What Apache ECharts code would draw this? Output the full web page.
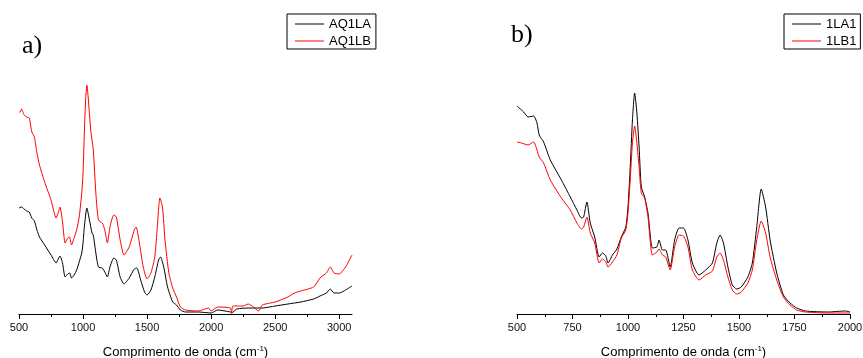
<!DOCTYPE html>
<html>
<head>
<meta charset="utf-8">
<script src="https://cdn.jsdelivr.net/npm/echarts@6/dist/echarts.min.js"></script>
<style>html,body{margin:0;padding:0;background:#fff}#c{width:863px;height:358px}</style>
</head>
<body>
<div id="c"></div>
<script>
// Panel a)
const aX_LA = [500,520,540,560,580,600,620,640,660,700,750,790,810,820,840,860,880,895,910,930,950,970,990,1000,1010,1030,1050,1070,1080,1100,1120,1150,1170,1190,1210,1240,1260,1290,1320,1360,1400,1420,1450,1480,1500,1530,1560,1590,1605,1630,1660,1700,1730,1760,1800,1900,2000,2050,2150,2160,2200,2300,2400,2500,2600,2700,2800,2850,2900,2930,2960,3000,3050,3100];
const aY_LA = [106,107,105,103,102,96,93,84,77,69,59,51,56,58,51,37,40,41,36,39,44,52,61,71,87,106,94,81,79,61,47,46,42,37,47,56,54,37,30,36,45,46,34,22,19,24,37,54,57,47,27,12,9,4,2,2,1,4,2,1,5,6,6,8,10,12,15,18,21,25,21,21,24,28];
const aX_LB = [500,510,520,540,560,580,600,620,640,660,700,750,790,805,820,840,860,880,895,910,930,950,970,990,1000,1010,1020,1030,1040,1060,1080,1100,1120,1150,1170,1190,1210,1240,1260,1290,1320,1360,1400,1415,1440,1470,1500,1530,1560,1580,1600,1620,1640,1670,1700,1730,1760,1800,1900,1980,2000,2050,2150,2160,2170,2250,2290,2330,2370,2400,2500,2600,2650,2700,2800,2850,2900,2930,2960,3000,3050,3100];
const aY_LB = [202,202,205,199,197,196,182,177,161,149,132,114,96,101,107,92,71,76,77,69,76,84,97,121,141,181,214,229,217,184,164,121,94,91,84,71,87,99,97,74,59,67,84,87,71,47,35,41,57,87,116,107,74,41,26,17,7,4,3,6,3,7,6,1,8,8,10,7,3,9,12,17,21,23,27,36,41,47,41,40,47,59];
// Panel b)
const bX_LA1 = [500,510,530,550,575,590,600,620,650,700,740,770,790,800,815,830,850,870,885,900,910,930,950,970,990,1000,1010,1020,1030,1040,1050,1060,1075,1090,1110,1130,1140,1155,1170,1190,1210,1230,1250,1270,1290,1320,1350,1380,1400,1415,1430,1450,1470,1490,1510,1540,1560,1580,1600,1620,1640,1670,1700,1730,1760,1800,1900,1980,2000];
const bY_LA1 = [208,206,202,197,198,191,179,172,154,134,117,104,96,97,112,91,77,57,61,58,51,59,65,77,87,107,147,194,221,201,167,127,117,101,66,67,74,64,64,47,74,86,86,74,51,39,44,51,71,79,71,47,29,25,27,37,51,87,125,107,74,41,19,11,6,3,2,3,2];
const bX_LB1 = [500,520,550,575,590,600,620,650,700,740,770,790,800,815,830,850,870,885,900,910,930,950,970,990,1000,1010,1020,1030,1040,1050,1060,1075,1090,1110,1130,1140,1155,1170,1190,1210,1230,1250,1270,1290,1320,1350,1380,1400,1415,1430,1450,1470,1490,1510,1540,1560,1580,1600,1620,1640,1670,1700,1730,1760,1800,1900,2000];
const bY_LB1 = [172,171,169,172,164,157,151,134,116,104,91,85,87,97,81,71,51,55,52,47,52,59,76,84,101,134,171,188,171,147,121,116,97,59,62,65,59,57,44,67,79,78,67,44,34,39,43,57,61,54,37,24,20,22,31,44,74,93,81,57,34,17,9,4,2,1,1];

const aMajor = [500,1000,1500,2000,2500,3000];
const aMinor = [750,1250,1750,2250,2750];
const bMajor = [500,750,1000,1250,1500,1750,2000];
const bMinor = [625,875,1125,1375,1625,1875];

const zip = (xs, ys) => xs.map((x, i) => [x, ys[i]]);
const FONT = 'Liberation Sans, Arial, sans-serif';
const axisName = '{a|Comprimento de onda (cm}{s|-1}{a|)}';
const nameStyle = {
  rich: {
    a: {fontSize: 13, fontFamily: FONT, color: '#000', lineHeight: 15},
    s: {fontSize: 8, fontFamily: FONT, color: '#000', lineHeight: 15, verticalAlign: 'top', padding: [0,0,7,0]}
  }
};
function majorAxis(grid, min, max, vals) {
  return {
    type: 'value', gridIndex: grid, min: min, max: max, position: 'bottom',
    name: axisName, nameLocation: 'middle', nameGap: 31, nameTextStyle: nameStyle,
    axisLine: {show: true, lineStyle: {color: '#000', width: 1}},
    axisTick: {show: true, inside: false, length: 5, customValues: vals, lineStyle: {color: '#000'}},
    axisLabel: {customValues: vals, formatter: v => String(v), fontSize: 11, fontFamily: FONT, color: '#111', margin: 8},
    splitLine: {show: false}
  };
}
function minorAxis(grid, min, max, vals) {
  return {
    type: 'value', gridIndex: grid, min: min, max: max, position: 'bottom', offset: 0,
    axisLine: {show: false},
    axisTick: {show: true, inside: false, length: 3, customValues: vals, lineStyle: {color: '#000'}},
    axisLabel: {show: false}, splitLine: {show: false}
  };
}
const legendBase = {
  orient: 'vertical', top: 14, borderColor: '#000', borderWidth: 1, borderRadius: 0,
  padding: [3,5,1,8], itemGap: 3, itemWidth: 29, itemHeight: 1, icon: 'rect', itemTextGap: 5,
  textStyle: {fontSize: 13, fontFamily: FONT, color: '#000', lineHeight: 14}
};

const chart = echarts.init(document.getElementById('c'), null, {renderer: 'canvas'});
chart.setOption({
  animation: false,
  backgroundColor: '#fff',
  grid: [
    {left: 19, right: 511, top: 20, bottom: 44, outerBoundsMode: 'none', containLabel: false},
    {left: 517, right: 13, top: 20, bottom: 44, outerBoundsMode: 'none', containLabel: false}
  ],
  xAxis: [
    majorAxis(0, 500, 3100, aMajor),
    majorAxis(1, 500, 2000, bMajor),
    minorAxis(0, 500, 3100, aMinor),
    minorAxis(1, 500, 2000, bMinor)
  ],
  yAxis: [
    {type: 'value', gridIndex: 0, min: 0, max: 294, show: false},
    {type: 'value', gridIndex: 1, min: 0, max: 294, show: false}
  ],
  legend: [
    Object.assign({}, legendBase, {left: 287, data: ['AQ1LA', 'AQ1LB']}),
    Object.assign({}, legendBase, {left: 784, padding: [3,4,1,8], data: ['1LA1', '1LB1']})
  ],
  graphic: [
    {type: 'text', left: 22, top: 33, style: {text: 'a)', font: '26px "Liberation Serif", "Times New Roman", serif', fill: '#000'}},
    {type: 'text', left: 511, top: 22, style: {text: 'b)', font: '26px "Liberation Serif", "Times New Roman", serif', fill: '#000'}}
  ],
  series: [
    {name: 'AQ1LA', type: 'line', xAxisIndex: 0, yAxisIndex: 0, data: zip(aX_LA, aY_LA), showSymbol: false, smooth: 0.2, color: '#000', lineStyle: {width: 1}},
    {name: 'AQ1LB', type: 'line', xAxisIndex: 0, yAxisIndex: 0, data: zip(aX_LB, aY_LB), showSymbol: false, smooth: 0.2, color: '#ff0000', lineStyle: {width: 1}},
    {name: '1LA1', type: 'line', xAxisIndex: 1, yAxisIndex: 1, data: zip(bX_LA1, bY_LA1), showSymbol: false, smooth: 0.2, color: '#000', lineStyle: {width: 1}},
    {name: '1LB1', type: 'line', xAxisIndex: 1, yAxisIndex: 1, data: zip(bX_LB1, bY_LB1), showSymbol: false, smooth: 0.2, color: '#ff0000', lineStyle: {width: 1}}
  ]
});
</script>
</body>
</html>
